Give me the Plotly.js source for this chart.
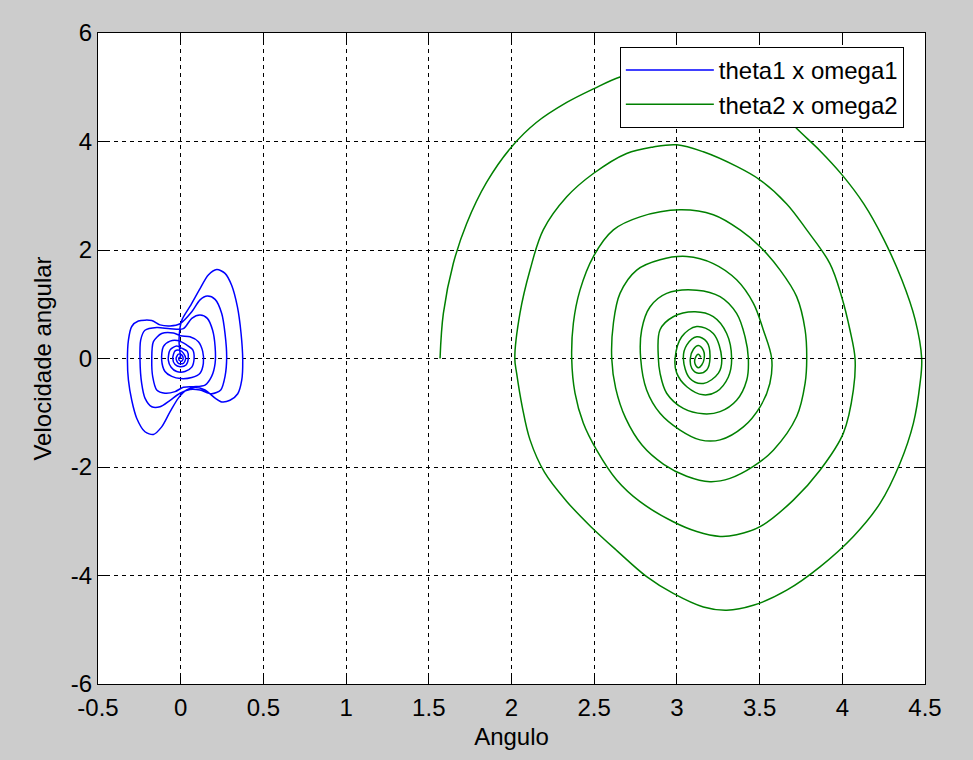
<!DOCTYPE html>
<html>
<head>
<meta charset="utf-8">
<script src="https://cdn.plot.ly/plotly-3.0.1.min.js"></script>
<style>
  html, body { margin: 0; padding: 0; background: #cccccc; }
  #chart { width: 973px; height: 760px; }
</style>
</head>
<body>
<div id="chart"></div>
<script>
// ---- data ----
var seriesNames = ['theta1 x omega1', 'theta2 x omega2'];

var theta1 = [
  0, -0.01,
  0.006, 0.056, 0.117, 0.167, 0.218, 0.268, 0.308, 0.343, 0.365, 0.375, 0.369, 0.345, 0.298, 0.248, 0.208, 0.147, 0.087, 0.036, -0.014, -0.064, -0.115, -0.165, -0.216, -0.266, -0.296, -0.316, -0.322, -0.316, -0.296, -0.256, -0.175, -0.125, -0.064,
  -0.004, 0.067, 0.117, 0.161, 0.208, 0.248, 0.268, 0.278, 0.268, 0.242, 0.187, 0.117, 0.056, -0.004, -0.064, -0.125, -0.175, -0.216, -0.236, -0.246, -0.242, -0.216, -0.145, -0.064,
  0.016, 0.067, 0.117, 0.161, 0.193, 0.208, 0.208, 0.187, 0.147, 0.077, 0.016, -0.034, -0.095, -0.145, -0.169, -0.175, -0.165, -0.115, -0.044,
  0.0, 0.056, 0.107, 0.133, 0.137, 0.117, 0.067, 0.0, -0.054, -0.095, -0.115, -0.105, -0.064, -0.02,
  0.036, 0.073, 0.081, 0.067, 0.026, -0.024, -0.058, -0.075, -0.064, -0.024,
  0.006, 0.04, 0.046, 0.032, -0.004, -0.034, -0.048, -0.034, -0.005,
  0.016, 0.03, 0.016, -0.014, -0.028, -0.014, 0.005, 0.015, 0.005, -0.01, -0.01, 0
];
var omega1 = [
  0, 0.35,
  0.70, 0.96, 1.29, 1.54, 1.64, 1.57, 1.35, 0.95, 0.46, -0.03, -0.40, -0.65, -0.77, -0.80, -0.73, -0.58, -0.53, -0.58, -0.73, -0.98, -1.26, -1.40, -1.35, -1.10, -0.77, -0.40, -0.03, 0.34, 0.59, 0.69, 0.70, 0.62, 0.60,
  0.64, 0.86, 1.08, 1.15, 1.09, 0.83, 0.46, 0.03, -0.33, -0.58, -0.65, -0.58, -0.57, -0.64, -0.77, -0.89, -0.89, -0.73, -0.46, -0.03, 0.34, 0.52, 0.57, 0.55,
  0.55, 0.74, 0.80, 0.74, 0.52, 0.22, -0.09, -0.33, -0.49, -0.52, -0.53, -0.61, -0.64, -0.58, -0.34, -0.03, 0.31, 0.46, 0.47,
  0.42, 0.40, 0.31, 0.13, -0.09, -0.27, -0.35, -0.37, -0.33, -0.24, -0.03, 0.22, 0.32, 0.33,
  0.25, 0.16, 0, -0.16, -0.24, -0.24, -0.16, -0.03, 0.16, 0.23,
  0.19, 0.13, 0, -0.12, -0.15, -0.11, 0, 0.14, 0.15,
  0.10, 0, -0.09, -0.09, 0, 0.08, 0.07, 0, -0.05, -0.03, 0.02, 0.02
];

var theta2 = [
  1.568, 1.588, 1.648, 1.729, 1.85, 2.0, 2.15, 2.334, 2.495, 2.656, 2.85, 3.05, 3.25, 3.45, 3.6, 3.714, 3.865, 4.0, 4.13, 4.25, 4.36, 4.44, 4.48,
  4.47, 4.43, 4.349, 4.228, 4.067, 3.865, 3.664, 3.462, 3.301, 3.16, 2.978, 2.817, 2.64, 2.48, 2.33, 2.2, 2.112, 2.065, 2.031, 2.02,
  2.051, 2.112, 2.192, 2.334, 2.495, 2.696, 2.857, 2.999, 3.16, 3.361, 3.503, 3.664, 3.785, 3.925, 3.996, 4.046, 4.077,
  4.067, 4.006, 3.865, 3.704, 3.503, 3.361, 3.261, 3.12, 2.978, 2.777, 2.636, 2.515, 2.434, 2.384, 2.364,
  2.374, 2.414, 2.495, 2.616, 2.777, 3.019, 3.22, 3.382, 3.503, 3.624, 3.724, 3.775, 3.785,
  3.775, 3.724, 3.583, 3.462, 3.321, 3.2, 3.059, 2.92, 2.79, 2.69, 2.63, 2.606,
  2.616, 2.656, 2.757, 2.898, 3.06, 3.22, 3.361, 3.462, 3.522, 3.573,
  3.562, 3.503, 3.402, 3.261, 3.14, 3.019, 2.898, 2.817, 2.781,
  2.787, 2.837, 2.938, 3.12, 3.261, 3.361, 3.412, 3.432,
  3.422, 3.361, 3.261, 3.16, 3.039, 2.938, 2.898, 2.888,
  2.898, 2.978, 3.11, 3.22, 3.301, 3.331,
  3.311, 3.24, 3.16, 3.06, 2.999, 2.989,
  3.029, 3.12, 3.22, 3.271,
  3.251, 3.16, 3.079, 3.039,
  3.06, 3.12, 3.18, 3.2, 3.18, 3.13, 3.09, 3.081,
  3.1, 3.13, 3.16, 3.165, 3.15, 3.13, 3.11, 3.11, 3.13, 3.145
];
var omega2 = [
  0, 0.83, 1.75, 2.49, 3.25, 3.90, 4.35, 4.72, 4.97, 5.19, 5.33, 5.38, 5.28, 5.02, 4.66, 4.27, 3.83, 3.38, 2.85, 2.20, 1.45, 0.72, 0,
  -0.46, -1.19, -1.93, -2.67, -3.28, -3.84, -4.27, -4.55, -4.64, -4.58, -4.33, -4.02, -3.55, -3.10, -2.62, -2.10, -1.50, -0.89, -0.27, 0,
  0.83, 1.63, 2.37, 2.98, 3.41, 3.78, 3.90, 3.94, 3.81, 3.54, 3.29, 2.85, 2.37, 1.75, 1.14, 0.53, 0,
  -0.58, -1.38, -2.06, -2.61, -3.10, -3.25, -3.28, -3.19, -3.01, -2.64, -2.24, -1.69, -1.19, -0.64, 0,
  0.65, 1.26, 1.88, 2.37, 2.61, 2.74, 2.65, 2.37, 2.06, 1.63, 1.14, 0.53, 0,
  -0.46, -1.07, -1.69, -1.99, -2.21, -2.27, -2.17, -1.95, -1.60, -1.10, -0.55, 0,
  0.65, 1.20, 1.63, 1.82, 1.88, 1.75, 1.45, 1.02, 0.53, 0,
  -0.46, -0.89, -1.26, -1.50, -1.50, -1.32, -1.01, -0.58, 0,
  0.53, 0.95, 1.20, 1.26, 1.14, 0.83, 0.40, 0,
  -0.40, -0.77, -0.98, -1.02, -0.92, -0.64, -0.27, 0,
  0.53, 0.77, 0.86, 0.77, 0.46, 0,
  -0.34, -0.61, -0.67, -0.52, -0.27, 0,
  0.40, 0.59, 0.46, 0,
  -0.27, -0.46, -0.37, 0,
  0.25, 0.40, 0.31, 0, -0.21, -0.27, -0.18, 0,
  0.17, 0.24, 0.15, 0, -0.12, -0.17, -0.10, 0, 0.08, 0.02
];

var xTickVals = [-0.5, 0, 0.5, 1, 1.5, 2, 2.5, 3, 3.5, 4, 4.5];
var xTickText = ['-0.5', '0', '0.5', '1', '1.5', '2', '2.5', '3', '3.5', '4', '4.5'];
var yTickVals = [-6, -4, -2, 0, 2, 4, 6];
var yTickText = ['-6', '-4', '-2', '0', '2', '4', '6'];
var xTitle = 'Angulo';
var yTitle = 'Velocidade angular';

// ---- figure ----
var fontFam = 'Arial, "Liberation Sans", Helvetica, sans-serif';

var traces = [
  { x: theta1, y: omega1, name: seriesNames[0], type: 'scatter', mode: 'lines',
    line: { color: '#0000ff', width: 1.5, shape: 'spline', smoothing: 0.8 } },
  { x: theta2, y: omega2, name: seriesNames[1], type: 'scatter', mode: 'lines',
    line: { color: '#008000', width: 1.5, shape: 'spline', smoothing: 1 } }
];

var axisCommon = {
  showline: true, linecolor: '#000000', linewidth: 1, mirror: 'ticks',
  ticks: 'inside', ticklen: 8, tickwidth: 1, tickcolor: '#000000',
  showgrid: true, gridcolor: '#000000', gridwidth: 1, griddash: '4px,4px',
  zeroline: false,
  tickfont: { family: fontFam, size: 24, color: '#000000' }
};

var layout = {
  width: 973, height: 760,
  margin: { l: 98, r: 48, t: 33, b: 76, pad: 0 },
  paper_bgcolor: '#cccccc', plot_bgcolor: '#ffffff',
  font: { family: fontFam, size: 24, color: '#000000' },
  xaxis: Object.assign({}, axisCommon, {
    range: [-0.5, 4.5], tickmode: 'array', tickvals: xTickVals, ticktext: xTickText,
    ticklabelstandoff: 2,
    title: { text: xTitle, font: { family: fontFam, size: 24, color: '#000000' }, standoff: 8 }
  }),
  yaxis: Object.assign({}, axisCommon, {
    range: [-6, 6], tickmode: 'array', tickvals: yTickVals, ticktext: yTickText,
    title: { text: yTitle, font: { family: fontFam, size: 24, color: '#000000' }, standoff: 12 }
  }),
  showlegend: true,
  legend: {
    x: 0.631, y: 0.9785, xanchor: 'left', yanchor: 'top',
    bgcolor: '#ffffff', bordercolor: '#000000', borderwidth: 1,
    font: { family: fontFam, size: 24, color: '#000000' },
    itemwidth: 88, tracegroupgap: 0
  }
};

Plotly.newPlot('chart', traces, layout, { staticPlot: true, displayModeBar: false });
</script>
</body>
</html>
